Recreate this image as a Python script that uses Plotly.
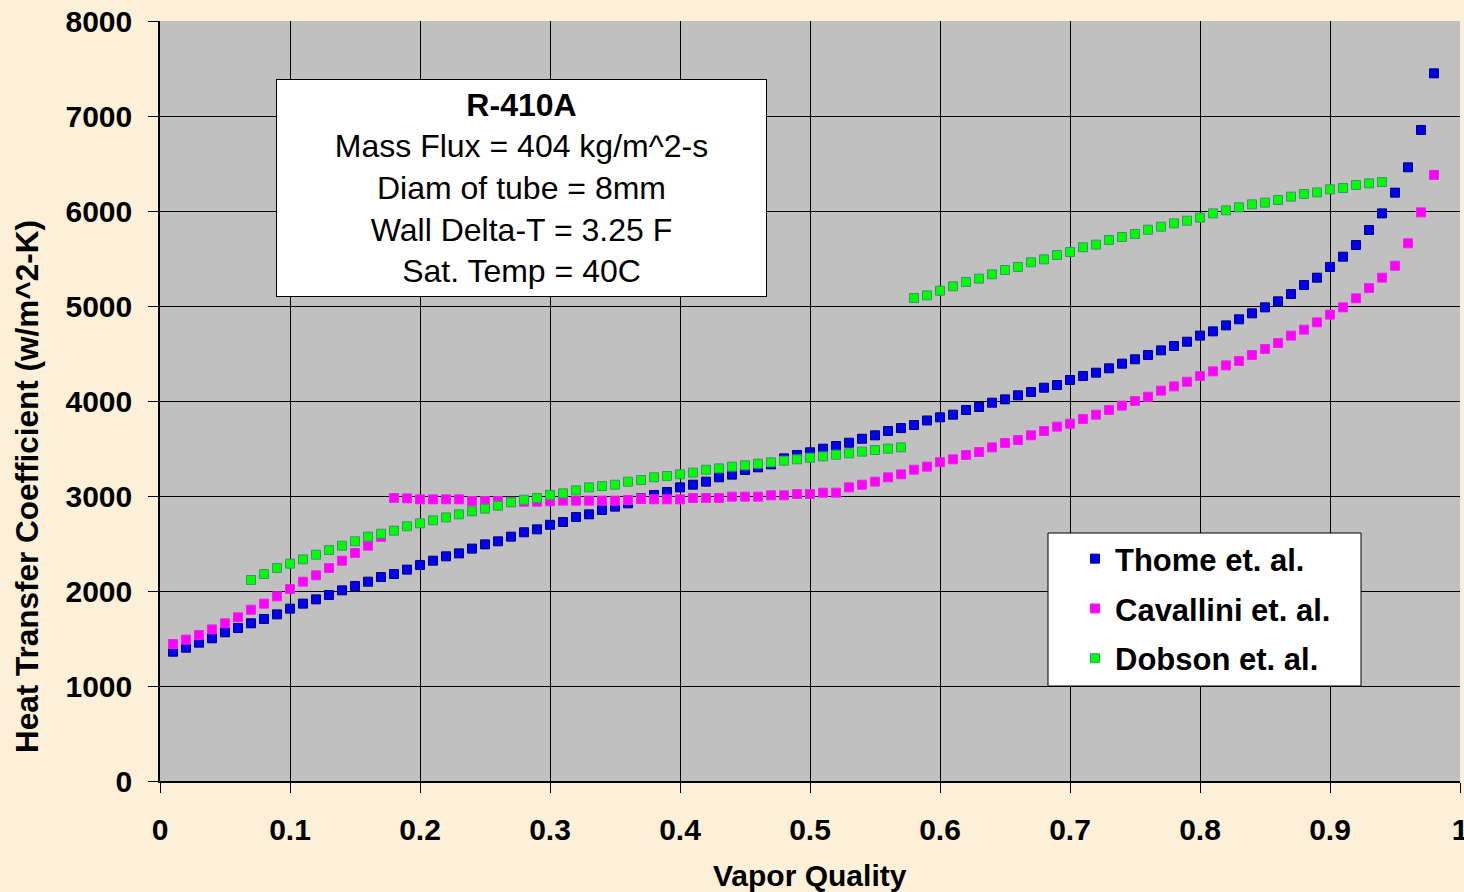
import plotly.graph_objects as go

# ---------------- data ----------------
quality = [0.01, 0.02, 0.03, 0.04, 0.05, 0.06, 0.07, 0.08, 0.09, 0.10,
           0.11, 0.12, 0.13, 0.14, 0.15, 0.16, 0.17, 0.18, 0.19, 0.20,
           0.21, 0.22, 0.23, 0.24, 0.25, 0.26, 0.27, 0.28, 0.29, 0.30,
           0.31, 0.32, 0.33, 0.34, 0.35, 0.36, 0.37, 0.38, 0.39, 0.40,
           0.41, 0.42, 0.43, 0.44, 0.45, 0.46, 0.47, 0.48, 0.49, 0.50,
           0.51, 0.52, 0.53, 0.54, 0.55, 0.56, 0.57, 0.58, 0.59, 0.60,
           0.61, 0.62, 0.63, 0.64, 0.65, 0.66, 0.67, 0.68, 0.69, 0.70,
           0.71, 0.72, 0.73, 0.74, 0.75, 0.76, 0.77, 0.78, 0.79, 0.80,
           0.81, 0.82, 0.83, 0.84, 0.85, 0.86, 0.87, 0.88, 0.89, 0.90,
           0.91, 0.92, 0.93, 0.94, 0.95, 0.96, 0.97, 0.98]

thome = [1361, 1403, 1456, 1502, 1565, 1610, 1660, 1705, 1754, 1814,
         1867, 1912, 1958, 2007, 2053, 2098, 2147, 2179, 2225, 2274,
         2319, 2365, 2396, 2446, 2491, 2523, 2572, 2618, 2649, 2697,
         2726, 2779, 2807, 2853, 2888, 2923, 2975, 3011, 3042, 3091,
         3119, 3151, 3197, 3225, 3274, 3302, 3333, 3396, 3432, 3460,
         3498, 3526, 3561, 3603, 3639, 3684, 3715, 3747, 3795, 3828,
         3856, 3905, 3937, 3982, 4017, 4060, 4095, 4140, 4168, 4221,
         4263, 4298, 4344, 4393, 4439, 4484, 4533, 4579, 4624, 4688,
         4733, 4796, 4860, 4923, 4986, 5049, 5126, 5221, 5298, 5411,
         5519, 5642, 5800, 5975, 6193, 6460, 6853, 7449]

cavallini = [1442, 1488, 1537, 1596, 1660, 1723, 1803, 1867, 1944, 2021,
             2098, 2165, 2242, 2319, 2400, 2477, 2570, 2979, 2975, 2965,
             2965, 2965, 2965, 2947, 2947, 2947, 2940, 2940, 2940, 2945,
             2951, 2951, 2951, 2951, 2951, 2958, 2968, 2965, 2965, 2965,
             2979, 2979, 2979, 2993, 2993, 2993, 3007, 3007, 3021, 3021,
             3035, 3035, 3091, 3119, 3151, 3197, 3228, 3277, 3309, 3356,
             3386, 3432, 3463, 3512, 3558, 3589, 3639, 3684, 3730, 3761,
             3811, 3856, 3905, 3951, 4000, 4045, 4109, 4154, 4203, 4263,
             4312, 4375, 4421, 4484, 4547, 4611, 4688, 4751, 4828, 4909,
             4986, 5081, 5189, 5298, 5424, 5660, 5986, 6380]

dobson_x1 = [0.07, 0.08, 0.09, 0.10, 0.11, 0.12, 0.13, 0.14, 0.15, 0.16,
             0.17, 0.18, 0.19, 0.20, 0.21, 0.22, 0.23, 0.24, 0.25, 0.26,
             0.27, 0.28, 0.29, 0.30, 0.31, 0.32, 0.33, 0.34, 0.35, 0.36,
             0.37, 0.38, 0.39, 0.40, 0.41, 0.42, 0.43, 0.44, 0.45, 0.46,
             0.47, 0.48, 0.49, 0.50, 0.51, 0.52, 0.53, 0.54, 0.55, 0.56,
             0.57]
dobson_y1 = [2116, 2179, 2242, 2288, 2333, 2382, 2432, 2477, 2523, 2572,
             2603, 2635, 2681, 2712, 2744, 2775, 2807, 2839, 2867, 2898,
             2933, 2961, 2979, 3012, 3028, 3060, 3091, 3105, 3119, 3151,
             3168, 3197, 3211, 3228, 3246, 3277, 3291, 3309, 3323, 3340,
             3354, 3372, 3386, 3403, 3417, 3435, 3449, 3467, 3484, 3498,
             3512]
dobson_x2 = [0.58, 0.59, 0.60, 0.61, 0.62, 0.63, 0.64, 0.65, 0.66, 0.67,
             0.68, 0.69, 0.70, 0.71, 0.72, 0.73, 0.74, 0.75, 0.76, 0.77,
             0.78, 0.79, 0.80, 0.81, 0.82, 0.83, 0.84, 0.85, 0.86, 0.87,
             0.88, 0.89, 0.90, 0.91, 0.92, 0.93, 0.94]
dobson_y2 = [5084, 5112, 5161, 5207, 5253, 5288, 5333, 5379, 5411, 5460,
             5491, 5537, 5568, 5618, 5646, 5695, 5726, 5758, 5803, 5835,
             5870, 5898, 5930, 5975, 6007, 6039, 6070, 6088, 6116, 6151,
             6179, 6196, 6228, 6242, 6274, 6291, 6305]

series_names = ["Thome et. al.", "Cavallini et. al.", "Dobson et. al."]
info_lines = ["<b>R-410A</b>", "Mass Flux = 404 kg/m^2-s", "Diam of tube = 8mm",
              "Wall Delta-T = 3.25 F", "Sat. Temp = 40C"]

FONT = "Liberation Sans, Arial, sans-serif"

fig = go.Figure()
fig.add_trace(go.Scatter(
    x=quality, y=thome, mode="markers", name=series_names[0], legendgroup="a",
    marker=dict(symbol="square", size=9, color="#0000F0",
                line=dict(color="#000080", width=1))))
fig.add_trace(go.Scatter(
    x=quality, y=cavallini, mode="markers", name=series_names[1], legendgroup="b",
    marker=dict(symbol="square", size=9, color="#FF00FF",
                line=dict(color="#F020F0", width=1))))
fig.add_trace(go.Scatter(
    x=dobson_x1 + dobson_x2, y=dobson_y1 + dobson_y2, mode="markers",
    name=series_names[2], legendgroup="c",
    marker=dict(symbol="square", size=9, color="#00FF00",
                line=dict(color="#339966", width=1))))

axis_common = dict(
    showgrid=True, gridcolor="black", gridwidth=1,
    showline=True, linecolor="black", linewidth=1.5,
    ticks="outside", ticklen=10, tickcolor="black", tickwidth=1,
    zeroline=False, ticklabeloverflow="allow", automargin=False,
    tickfont=dict(family=FONT, size=30, color="black", weight="bold"),
)

fig.update_xaxes(range=[0, 1], tick0=0, dtick=0.1, ticklabelstandoff=11, **axis_common)
fig.update_yaxes(range=[0, 8000], tick0=0, dtick=1000, ticklabelstandoff=10, **axis_common)

# legend frame
fig.add_shape(type="rect", xref="paper", yref="paper",
              x0=(1048 - 160) / 1300, x1=(1361 - 160) / 1300,
              y0=(781 - 686) / 760, y1=(781 - 533) / 760,
              fillcolor="white", line=dict(color="black", width=1), layer="above")

fig.update_layout(
    width=1464, height=892, autosize=False,
    margin=dict(l=160, r=4, t=21, b=111, autoexpand=False),
    paper_bgcolor="#FCF0D8", plot_bgcolor="#C0C0C0",
    font=dict(family=FONT, color="black"),
    showlegend=True,
    legend=dict(x=(1075 - 160) / 1300, y=(781 - 532) / 760,
                xanchor="left", yanchor="top",
                bgcolor="rgba(0,0,0,0)", borderwidth=0,
                traceorder="grouped", tracegroupgap=6.5,
                font=dict(family=FONT, size=31, color="black", weight="bold")),
    annotations=[
        dict(text="<br>".join(info_lines), xref="paper", yref="paper",
             x=(521.5 - 160) / 1300, y=(781 - 188) / 760,
             xanchor="center", yanchor="middle", showarrow=False,
             bgcolor="white", bordercolor="black", borderwidth=1, borderpad=0,
             width=489, height=216, align="center", valign="middle",
             font=dict(family=FONT, size=32, color="black")),
        dict(text="<b>Heat Transfer Coefficient (w/m^2-K)</b>", xref="paper", yref="paper",
             x=(27 - 160) / 1300, y=(781 - 487) / 760, textangle=-90,
             xanchor="center", yanchor="middle", showarrow=False,
             font=dict(family=FONT, size=31.5, color="black")),
        dict(text="<b>Vapor Quality</b>", xref="paper", yref="paper",
             x=0.5, y=(781 - 875) / 760,
             xanchor="center", yanchor="middle", showarrow=False,
             font=dict(family=FONT, size=30, color="black")),
    ],
)

fig.write_html("out.html")
